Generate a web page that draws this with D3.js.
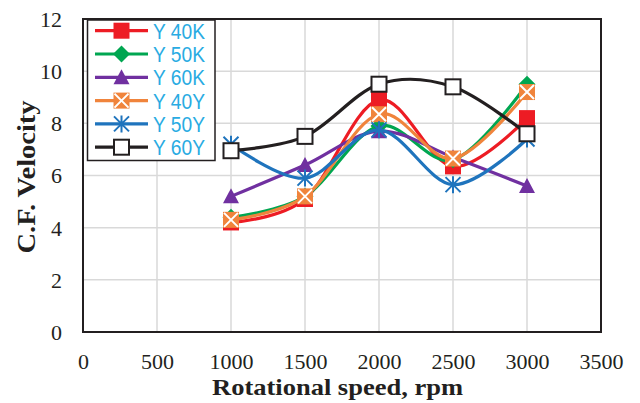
<!DOCTYPE html>
<html><head><meta charset="utf-8">
<script src="https://cdn.jsdelivr.net/npm/d3@7"></script>
<style>html,body{margin:0;padding:0;background:#fff;}svg{display:block;}</style>
</head><body>
<svg id="chart" width="640" height="403"></svg>
<script>
const speeds = [1000, 1500, 2000, 2500, 3000];
const seriesNames = ["Y 40K", "Y 50K", "Y 60K", "Y 40Y", "Y 50Y", "Y 60Y"];
const y40K = [4.2, 5.1, 8.9, 6.35, 8.2];
const y50K = [4.4, 5.2, 7.9, 6.6, 9.5];
const y60K = [5.2, 6.4, 7.7, 6.7, 5.6];
const y40Y = [4.3, 5.2, 8.35, 6.65, 9.2];
const y50Y = [7.2, 5.9, 7.75, 5.65, 7.4];
const y60Y = [6.95, 7.5, 9.5, 9.4, 7.6];
const xTicks = [0, 500, 1000, 1500, 2000, 2500, 3000, 3500];
const yTicks = [0, 2, 4, 6, 8, 10, 12];

const colors = ["#ED1C24", "#00A651", "#7030A0", "#F0843C", "#1F74BD", "#231F20"];
const markers = ["square", "diamond", "triangle", "xsquare", "asterisk", "opensquare"];
const values = [y40K, y50K, y60K, y40Y, y50Y, y60Y];

const svg = d3.select("#chart");
const L = 83, R = 601, T = 19, B = 332;
const x = d3.scaleLinear().domain([0, 3500]).range([L, R]);
const y = d3.scaleLinear().domain([0, 12]).range([B, T]);
const serif = "Liberation Serif, Times New Roman, serif";

// grid
svg.append("g").selectAll("line").data(xTicks.slice(1, -1)).join("line")
  .attr("x1", d => x(d)).attr("x2", d => x(d)).attr("y1", T).attr("y2", B)
  .attr("stroke", "#d9d9d9").attr("stroke-width", 1.5);
svg.append("g").selectAll("line").data(yTicks.slice(1, -1)).join("line")
  .attr("y1", d => y(d)).attr("y2", d => y(d)).attr("x1", L).attr("x2", R)
  .attr("stroke", "#d9d9d9").attr("stroke-width", 1.5);

// axes tick labels
const xAxis = d3.axisBottom(x).tickValues(xTicks).tickFormat(d3.format("d")).tickSize(0).tickPadding(0);
const gx = svg.append("g").attr("transform", `translate(0,${B})`).call(xAxis);
gx.select(".domain").remove();
gx.selectAll("text").attr("dy", 0).attr("y", 37)
  .attr("font-family", serif).attr("font-size", 22).attr("fill", "#231F20");

const yAxis = d3.axisLeft(y).tickValues(yTicks).tickFormat(d3.format("d")).tickSize(0).tickPadding(0);
const gy = svg.append("g").attr("transform", `translate(${L},0)`).call(yAxis);
gy.select(".domain").remove();
gy.selectAll("text").attr("x", -21).attr("dy", "0.34em")
  .attr("font-family", serif).attr("font-size", 22).attr("fill", "#231F20");

// frame
svg.append("rect").attr("x", L).attr("y", T).attr("width", R - L).attr("height", B - T)
  .attr("fill", "none").attr("stroke", "#231F20").attr("stroke-width", 2);

// axis titles
svg.append("text").attr("x", 337.5).attr("y", 395).attr("text-anchor", "middle")
  .attr("font-family", serif).attr("font-weight", "bold")
  .attr("font-size", 24).attr("textLength", 251).attr("lengthAdjust", "spacingAndGlyphs")
  .attr("fill", "#231F20").text("Rotational speed, rpm");
svg.append("text").attr("transform", "translate(35,177) rotate(-90)").attr("text-anchor", "middle")
  .attr("font-family", serif).attr("font-weight", "bold")
  .attr("font-size", 25).attr("textLength", 153).attr("lengthAdjust", "spacingAndGlyphs")
  .attr("fill", "#231F20").text("C.F.  Velocity");

function drawMarker(g, type, color, cx, cy) {
  const s = 8;
  if (type === "square") {
    g.append("rect").attr("x", cx - s).attr("y", cy - s).attr("width", 2 * s).attr("height", 2 * s).attr("fill", color);
  } else if (type === "diamond") {
    const d = 8.5;
    g.append("path").attr("d", `M${cx},${cy - d}L${cx + d},${cy}L${cx},${cy + d}L${cx - d},${cy}Z`).attr("fill", color);
  } else if (type === "triangle") {
    g.append("path").attr("d", `M${cx},${cy - 8}L${cx + 8},${cy + 7}L${cx - 8},${cy + 7}Z`).attr("fill", color);
  } else if (type === "xsquare") {
    g.append("rect").attr("x", cx - s).attr("y", cy - s).attr("width", 2 * s).attr("height", 2 * s).attr("fill", color);
    g.append("path").attr("d", `M${cx - s + 1},${cy - s + 1}L${cx + s - 1},${cy + s - 1}M${cx + s - 1},${cy - s + 1}L${cx - s + 1},${cy + s - 1}`)
      .attr("stroke", "#fff").attr("stroke-width", 2);
  } else if (type === "asterisk") {
    const a = 7.5;
    g.append("path").attr("d", `M${cx - a},${cy - a}L${cx + a},${cy + a}M${cx + a},${cy - a}L${cx - a},${cy + a}M${cx},${cy - a - 1}L${cx},${cy + a + 1}`)
      .attr("stroke", color).attr("stroke-width", 2);
  } else if (type === "opensquare") {
    g.append("rect").attr("x", cx - 7.5).attr("y", cy - 7.5).attr("width", 15).attr("height", 15)
      .attr("fill", "#fff").attr("stroke", color).attr("stroke-width", 2);
  }
}

const line = d3.line().x((d, i) => x(speeds[i])).y(d => y(d)).curve(d3.curveCardinal.tension(0));

values.forEach((vals, si) => {
  const g = svg.append("g");
  g.append("path").datum(vals).attr("d", line).attr("fill", "none")
    .attr("stroke", colors[si]).attr("stroke-width", 3.2).attr("stroke-linejoin", "round").attr("stroke-linecap", "round");
  vals.forEach((v, i) => drawMarker(g, markers[si], colors[si], x(speeds[i]), y(v)));
});

// legend
const lg = svg.append("g");
lg.append("rect").attr("x", 87.5).attr("y", 20).attr("width", 127.5).attr("height", 140.5)
  .attr("fill", "#fff").attr("stroke", "#231F20").attr("stroke-width", 1.5);
seriesNames.forEach((name, i) => {
  const cy = 30.7 + i * 23.3;
  lg.append("line").attr("x1", 95).attr("x2", 148).attr("y1", cy).attr("y2", cy)
    .attr("stroke", colors[i]).attr("stroke-width", 3.2);
  drawMarker(lg, markers[i], colors[i], 121.5, cy);
  lg.append("text").attr("x", 153).attr("y", cy + 8).attr("font-family", "Liberation Sans, Arial, sans-serif")
    .attr("font-size", 22).attr("fill", "#29ABE2").attr("textLength", 52).attr("lengthAdjust", "spacingAndGlyphs")
    .text(name);
});
</script>
</body></html>
